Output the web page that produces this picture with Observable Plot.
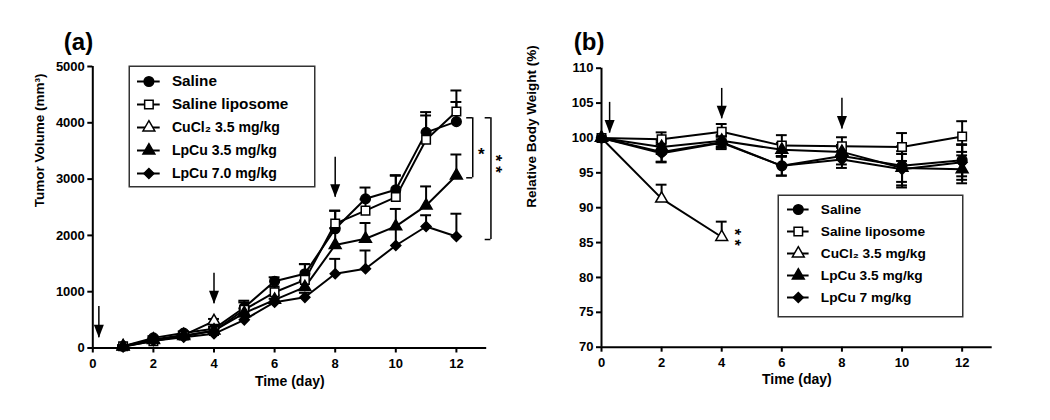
<!DOCTYPE html>
<html><head><meta charset="utf-8">
<script src="https://cdn.jsdelivr.net/npm/d3@7"></script>
<script src="https://cdn.jsdelivr.net/npm/@observablehq/plot@0.6"></script>
<style>
html,body{margin:0;padding:0;background:#fff;}
#wrap{position:relative;width:1050px;height:420px;overflow:hidden;background:#fff;}
#wrap > div{position:absolute;}
</style></head><body><div id="wrap"></div>
<script>
// ---------- DATA ----------
const namesA = ["Saline", "Saline liposome", "CuCl₂ 3.5 mg/kg", "LpCu 3.5 mg/kg", "LpCu 7.0 mg/kg"];
const namesB = ["Saline", "Saline liposome", "CuCl₂ 3.5 mg/kg", "LpCu 3.5 mg/kg", "LpCu 7 mg/kg"];

// Panel (a): tumor volume (mm3) by day
const daysA = [1, 2, 3, 4, 5, 6, 7, 8, 9, 10, 11, 12];
const daysCuA = [1, 2, 3, 4];
const salineA    = [30, 180, 265, 340, 720, 1186, 1320, 2117, 2650, 2810, 3830, 4020];
const salineErrA = [15, 30, 30, 40, 120, 70, 170, 320, 200, 250, 360, 350];
const lipoA      = [30, 120, 220, 300, 680, 990, 1210, 2210, 2440, 2680, 3700, 4200];
const lipoErrA   = [15, 30, 30, 40, 130, 100, 280, 230, 200, 390, 430, 374];
const cuA        = [30, 150, 230, 476];
const cuErrA     = [15, 30, 30, 40];
const lp35A      = [25, 140, 210, 310, 620, 856, 1080, 1830, 1940, 2160, 2530, 3064];
const lp35ErrA   = [15, 30, 30, 40, 80, 80, 120, 300, 280, 310, 340, 373];
const lp7A       = [20, 130, 190, 252, 500, 814, 900, 1318, 1407, 1821, 2158, 1980];
const lp7ErrA    = [10, 20, 20, 30, 60, 60, 80, 265, 325, 300, 200, 405];
const xTicksA = [0, 2, 4, 6, 8, 10, 12];
const yTicksA = [0, 1000, 2000, 3000, 4000, 5000];
const arrowDaysA = [0.2, 4, 8];
const arrowTopA  = [737, 1329, 3389];
const arrowTipA  = [181, 785, 2679];
const sigLabelsA = ["*", "* *"];
const sigRotateA = [0, 90];
const sigLineDayA = [12.54, 13.14];
const sigArmDayA  = [12.34, 12.95];
const sigTopA     = [4089, 4089];
const sigBottomA  = [3023, 1927];
const sigTextDayA = [12.82, 13.30];
const sigTextValA = [3442, 3272];

// Panel (b): relative body weight (%) by day
const daysB = [0, 2, 4, 6, 8, 10, 12];
const daysCuB = [0, 2, 4];
const salineB    = [100, 98.0, 99.4, 96.0, 97.4, 96.0, 96.8];
const salineErrB = [0, 1.4, 0.8, 1.4, 1.2, 2.8, 2.3];
const lipoB      = [100, 99.8, 100.9, 98.9, 98.8, 98.7, 100.2];
const lipoErrB   = [0, 1.0, 1.1, 1.5, 1.3, 2.0, 2.2];
const cuB        = [100, 91.3, 85.8];
const cuErrB     = [0, 2.0, 2.2];
const lp35B      = [100, 98.7, 99.6, 98.3, 98.0, 95.7, 95.5];
const lp35ErrB   = [0, 1.0, 0.8, 1.0, 1.0, 2.0, 2.0];
const lp7B       = [100, 97.8, 99.3, 96.0, 96.9, 95.5, 96.5];
const lp7ErrB    = [0, 1.3, 0.9, 1.4, 1.2, 2.6, 2.5];
const xTicksB = [0, 2, 4, 6, 8, 10, 12];
const yTicksB = [70, 75, 80, 85, 90, 95, 100, 105, 110];
const arrowDaysB = [0.27, 4, 8];
const arrowTopB  = [105.1, 107.1, 105.7];
const arrowTipB  = [100.7, 102.75, 101.3];
const sigLabelsB = ["* *"];
const sigTextDayB = [4.42];
const sigTextValB = [85.77];

// ---------- STYLE ----------
const FONT = '"Liberation Sans", Arial, Helvetica, sans-serif';
const symStyles = [
  {symbol: "circle",   fill: "black", r: 4.8},
  {symbol: "square",   fill: "white", r: 4.8},
  {symbol: "triangle", fill: "white", r: 4.4},
  {symbol: "triangle", fill: "black", r: 4.4},
  {symbol: "diamond2", fill: "black", r: 4.5}
];
const arrowHead = {draw(ctx) { ctx.moveTo(0, 0); ctx.lineTo(-5, -13); ctx.lineTo(5, -13); ctx.closePath(); }};
const baseStyle = {fontFamily: FONT, fontSize: "13px", fontWeight: "bold", background: "transparent", overflow: "visible", color: "black"};

function rows(days, vals, errs) { return days.map((d, i) => ({day: d, value: vals[i], err: errs[i]})); }

function seriesMarks(list, twoSided, oneSidedIdx, cap) {
  const marks = [];
  list.forEach((data, i) => {
    const up = !twoSided || oneSidedIdx.includes(i);
    marks.push(Plot.line(data, {x: "day", y: "value", stroke: "black", strokeWidth: 2}));
    const eb = data.filter(d => d.err > 0);
    marks.push(Plot.ruleX(eb, {x: "day", y1: d => up ? d.value : d.value - d.err, y2: d => d.value + d.err, stroke: "black", strokeWidth: 2}));
    marks.push(Plot.ruleY(eb, {y: d => d.value + d.err, x1: d => d.day - cap, x2: d => d.day + cap, stroke: "black", strokeWidth: 2}));
    if (!up) marks.push(Plot.ruleY(eb, {y: d => d.value - d.err, x1: d => d.day - cap, x2: d => d.day + cap, stroke: "black", strokeWidth: 2}));
  });
  list.forEach((data, i) => {
    const st = symStyles[i];
    marks.push(Plot.dot(data, {x: "day", y: "value", symbol: st.symbol, fill: st.fill, stroke: "black", strokeWidth: 1.5, r: st.r}));
  });
  return marks;
}

function arrowMarks(days, tops, tips) {
  const a = days.map((d, i) => ({day: d, top: tops[i], tip: tips[i]}));
  return [
    Plot.ruleX(a, {x: "day", y1: "top", y2: "tip", stroke: "black", strokeWidth: 1.5}),
    Plot.dot(a, {x: "day", y: "tip", symbol: arrowHead, fill: "black", stroke: "none"})
  ];
}

const wrap = document.getElementById("wrap");
function place(node, left, top) {
  const div = document.createElement("div");
  div.style.left = left + "px"; div.style.top = top + "px";
  div.appendChild(node); wrap.appendChild(div);
}

// ---------- PANEL A ----------
const seriesA = [rows(daysA, salineA, salineErrA), rows(daysA, lipoA, lipoErrA), rows(daysCuA, cuA, cuErrA), rows(daysA, lp35A, lp35ErrA), rows(daysA, lp7A, lp7ErrA)];
const sigA = sigLabelsA.map((l, i) => ({label: l, rot: sigRotateA[i], x: sigLineDayA[i], arm: sigArmDayA[i], top: sigTopA[i], bottom: sigBottomA[i], tx: sigTextDayA[i], ty: sigTextValA[i]}));

const plotA = Plot.plot({
  width: 525, height: 420,
  marginLeft: 92.3, marginRight: 38.8, marginTop: 66, marginBottom: 72.5,
  style: baseStyle,
  x: {domain: [0, 13]},
  y: {domain: [0, 5000]},
  marks: [
    Plot.axisX({ticks: xTicksA, tickSize: 5, tickPadding: 6, strokeWidth: 2, label: null, fontSize: 13, fontWeight: "bold"}),
    Plot.axisY({ticks: yTicksA, tickSize: 5, tickPadding: 3, strokeWidth: 2, label: null, tickFormat: d => String(d), fontSize: 13, fontWeight: "bold"}),
    Plot.ruleX([0], {stroke: "black", strokeWidth: 2}),
    Plot.ruleY([0], {stroke: "black", strokeWidth: 2}),
    ...seriesMarks(seriesA, false, [], 0.18),
    ...arrowMarks(arrowDaysA, arrowTopA, arrowTipA),
    Plot.ruleX(sigA, {x: "x", y1: "top", y2: "bottom", stroke: "black", strokeWidth: 1.5}),
    Plot.ruleY(sigA, {y: "top", x1: "arm", x2: "x", stroke: "black", strokeWidth: 1.5}),
    Plot.ruleY(sigA, {y: "bottom", x1: "arm", x2: "x", stroke: "black", strokeWidth: 1.5}),
    Plot.text(sigA.filter(d => d.rot === 0), {x: "tx", y: "ty", text: "label", fontSize: 17, fontWeight: "bold"}),
    Plot.text(sigA.filter(d => d.rot !== 0), {x: "tx", y: "ty", text: "label", rotate: 90, fontSize: 17, fontWeight: "bold"}),
    Plot.text(["Tumor Volume (mm³)"], {frameAnchor: "left", dx: -52.7, rotate: -90, text: d => d, fontSize: 13.5, fontWeight: "bold"}),
    Plot.text(["Time (day)"], {frameAnchor: "bottom", dy: 37.5, text: d => d, fontSize: 14, fontWeight: "bold"}),
    Plot.text(["(a)"], {frameAnchor: "top-left", dx: -29, dy: -33.7, textAnchor: "start", text: d => d, fontSize: 24, fontWeight: "bold"})
  ]
});
place(plotA, 0, 0);

// ---------- PANEL B ----------
const seriesB = [rows(daysB, salineB, salineErrB), rows(daysB, lipoB, lipoErrB), rows(daysCuB, cuB, cuErrB), rows(daysB, lp35B, lp35ErrB), rows(daysB, lp7B, lp7ErrB)];
const sigB = sigLabelsB.map((l, i) => ({label: l, tx: sigTextDayB[i], ty: sigTextValB[i]}));

const plotB = Plot.plot({
  width: 525, height: 420,
  marginLeft: 76, marginRight: 58.3, marginTop: 67.7, marginBottom: 73.3,
  style: baseStyle,
  x: {domain: [0, 13]},
  y: {domain: [70, 110]},
  marks: [
    Plot.axisX({ticks: xTicksB, tickSize: 5, tickPadding: 6, strokeWidth: 2, label: null, fontSize: 13, fontWeight: "bold"}),
    Plot.axisY({ticks: yTicksB, tickSize: 5, tickPadding: 3, strokeWidth: 2, label: null, tickFormat: d => String(d), fontSize: 13, fontWeight: "bold"}),
    Plot.ruleX([0], {stroke: "black", strokeWidth: 2}),
    Plot.ruleY([70], {stroke: "black", strokeWidth: 2}),
    ...seriesMarks(seriesB, true, [2], 0.18),
    ...arrowMarks(arrowDaysB, arrowTopB, arrowTipB),
    Plot.text(sigB, {x: "tx", y: "ty", text: "label", rotate: 90, fontSize: 16, fontWeight: "bold"}),
    Plot.text(["Relative Body Weight (%)"], {frameAnchor: "left", dx: -70, rotate: -90, text: d => d, fontSize: 13.5, fontWeight: "bold"}),
    Plot.text(["Time (day)"], {frameAnchor: "bottom", dy: 36.6, text: d => d, fontSize: 14, fontWeight: "bold"}),
    Plot.text(["(b)"], {frameAnchor: "top-left", dx: -27.7, dy: -35.4, textAnchor: "start", text: d => d, fontSize: 24, fontWeight: "bold"})
  ]
});
place(plotB, 525, 0);

// ---------- LEGENDS ----------
function legend(names, W, H, rowRange, lineX, symX, textX, sizes) {
  const marks = [
    Plot.frame({stroke: "#333", strokeWidth: 1.5, inset: 0.75}),
    Plot.ruleY(names, {y: d => d, x1: lineX[0], x2: lineX[1], stroke: "black", strokeWidth: 2})
  ];
  names.forEach((n, i) => {
    const st = symStyles[i];
    marks.push(Plot.dot([n], {x: symX, y: d => d, symbol: st.symbol, fill: st.fill, stroke: "black", strokeWidth: 1.5, r: st.r}));
    marks.push(Plot.text([n], {x: textX, y: d => d, text: d => d, textAnchor: "start", fontSize: sizes[i], fontWeight: "bold"}));
  });
  return Plot.plot({
    width: W, height: H, margin: 0,
    style: {...baseStyle, background: "white"},
    x: {domain: [0, W], range: [0, W], axis: null},
    y: {type: "point", domain: names, range: rowRange, padding: 0, axis: null},
    marks
  });
}
place(legend(namesA, 187, 122, [15, 108.3], [9, 31.7], 20.4, 43.4, [15.3, 15.3, 14.1, 14.1, 14.1]), 128.3, 65);
place(legend(namesB, 186, 123, [14.3, 102.7], [10, 31.6], 20.8, 43.3, [13.7, 13.7, 13.7, 13.7, 13.7]), 776.7, 194);
</script></body></html>
